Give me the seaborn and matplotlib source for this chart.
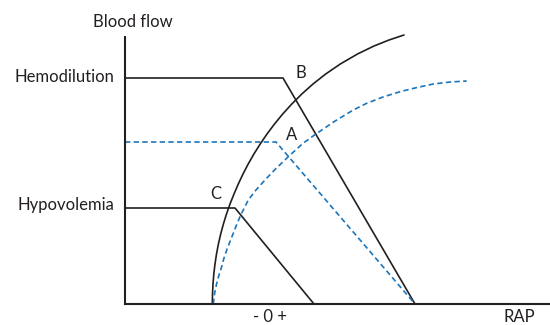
import pandas as pd
import seaborn as sns
import matplotlib.pyplot as plt

# venous return curves (x = RAP, y = blood flow, arbitrary units)
hemo_x = [0, 158, 290]
hemo_y = [226, 226, 0]
normal_vr_x = [0, 151, 290]
normal_vr_y = [162, 162, 0]
hypo_x = [0, 110, 189]
hypo_y = [96, 96, 0]

# cardiac function curves
cf_x = [87.3, 87.5, 88, 88.8, 90, 91.5, 93.4, 95.7, 98.4, 101.5, 105, 109, 113.3,
        118, 123.2, 128.9, 135.2, 142, 149.5, 157.7, 166.8, 176.8, 188, 200.7,
        215.3, 232.5, 249, 264, 279]
cf_y = [0, 10, 20, 30, 40, 50, 60, 70, 80, 90, 100, 110, 120,
        130, 140, 150, 160, 170, 180, 190, 200, 210, 220, 230,
        240, 250, 258, 264, 269]
cf2_x = [88.3, 89.5, 91.7, 94, 96.7, 99, 101.7, 105, 108.3, 111.5, 115, 119, 123.3,
         131, 140, 149.5, 163.3, 178, 189.5, 209, 228.3, 241.7, 258, 275, 292,
         308.3, 325, 341.7]
cf2_y = [0, 10, 20.7, 29, 37.3, 46, 54, 62.5, 70.7, 79, 87.3, 95.5, 104,
         114, 124, 134, 147.3, 160.7, 169, 182.3, 194, 200.7, 207, 212.3, 216.5,
         220, 222, 223]

black = "#231f20"
blue = "#1b75bb"

sns.set_style("white")
plt.rcParams['font.family'] = ['Lato', 'DejaVu Sans']

fig = plt.figure(figsize=(5.5, 3.25), dpi=100)
ax = fig.add_axes([125 / 550, 21 / 325, 425 / 550, 272 / 325])

solid = dict(color=black, linewidth=1.2, sort=False, estimator=None)
dashed = dict(color=blue, linewidth=1.2, sort=False, estimator=None,
              linestyle=(0, (3.2, 2.0)))

sns.lineplot(x=hemo_x, y=hemo_y, ax=ax, **solid)
sns.lineplot(x=hypo_x, y=hypo_y, ax=ax, **solid)
sns.lineplot(x=normal_vr_x, y=normal_vr_y, ax=ax, **dashed)
sns.lineplot(x=cf_x, y=cf_y, ax=ax, **solid)
sns.lineplot(x=cf2_x, y=cf2_y, ax=ax, **dashed)

ax.set_xlim(0, 425)
ax.set_ylim(0, 272)
for s in ['top', 'right']:
    ax.spines[s].set_visible(False)
for s in ['left', 'bottom']:
    ax.spines[s].set_color(black)
    ax.spines[s].set_linewidth(1.5)
ax.spines['left'].set_bounds(0, 267)
ax.set_xticks([])
ax.set_yticks([])

fs = 12
ax.text(8, 277, "Blood flow", ha='center', va='baseline', fontsize=fs, color=black, clip_on=False)
ax.text(-11, 222, "Hemodilution", ha='right', va='baseline', fontsize=fs, color=black, clip_on=False)
ax.text(-11, 94, "Hypovolemia", ha='right', va='baseline', fontsize=fs, color=black, clip_on=False)
ax.text(394, -18, "RAP", ha='center', va='baseline', fontsize=fs, color=black, clip_on=False)
ax.text(145, -18, "- 0 +", ha='center', va='baseline', fontsize=fs, color=black, clip_on=False)
ax.text(167, 169, "A", ha='center', va='center', fontsize=fs, color=black)
ax.text(176, 231, "B", ha='center', va='center', fontsize=fs, color=black)
ax.text(91, 110, "C", ha='center', va='center', fontsize=fs, color=black)

fig.savefig("out.png", dpi=100)
